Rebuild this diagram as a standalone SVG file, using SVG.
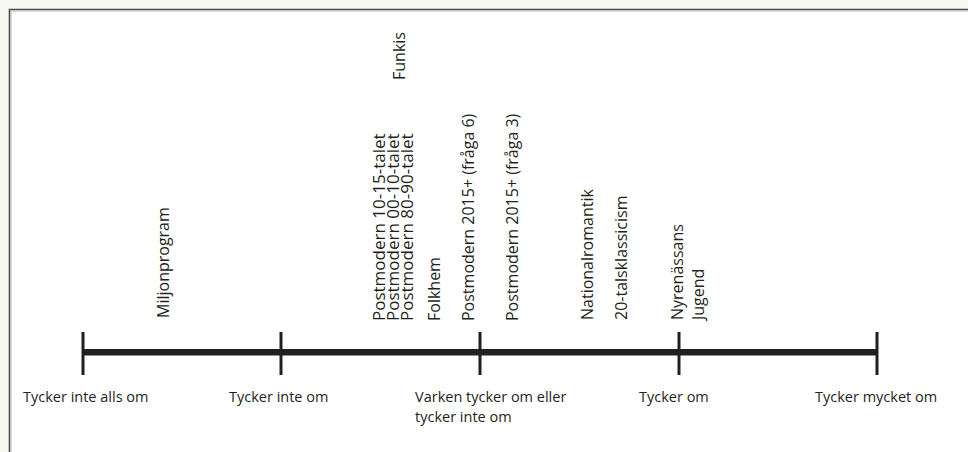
<svg xmlns="http://www.w3.org/2000/svg" width="968" height="452" viewBox="0 0 968 452">
<style>
.lbl{font-family:"Open Sans","Noto Sans","Liberation Sans",sans-serif;font-size:14.5px;fill:#231f20}
.rot{font-family:"Open Sans","Noto Sans","Liberation Sans",sans-serif;font-size:16px;fill:#231f20}
.pm{font-size:17px}
.tick{stroke:#231f20;stroke-width:3}
</style>
<rect x="0" y="0" width="968" height="452" fill="#f5f8f0"/>
<rect x="9" y="9" width="959" height="443" fill="#ffffff"/>
<path d="M9.5 452V9.5H968" fill="none" stroke="#4a4a4a" stroke-width="1.6"/>
<path d="M11 452V11H968" fill="none" stroke="#b8b8b8" stroke-width="1"/>
<g id="axis">
<rect x="83" y="349" width="794" height="6.5" fill="#231f20"/>
<line class="tick" x1="83" y1="332" x2="83" y2="375"/>
<line class="tick" x1="281" y1="332" x2="281" y2="375"/>
<line class="tick" x1="480" y1="332" x2="480" y2="375"/>
<line class="tick" x1="679" y1="332" x2="679" y2="375"/>
<line class="tick" x1="877" y1="332" x2="877" y2="375"/>
</g>
<g id="scale-labels">
<text class="lbl" x="23" y="402">Tycker inte alls om</text>
<text class="lbl" x="229" y="402">Tycker inte om</text>
<text class="lbl" x="415" y="402">Varken tycker om eller</text>
<text class="lbl" x="415" y="422">tycker inte om</text>
<text class="lbl" x="639" y="402">Tycker om</text>
<text class="lbl" x="815" y="402">Tycker mycket om</text>
</g>
<g id="styles">
<text class="rot" transform="translate(169,318) rotate(-90)">Miljonprogram</text>
<text class="rot pm" transform="translate(385,321) rotate(-90)">Postmodern 10-15-talet</text>
<text class="rot pm" transform="translate(399,321) rotate(-90)">Postmodern 00-10-talet</text>
<text class="rot pm" transform="translate(413,321) rotate(-90)">Postmodern 80-90-talet</text>
<text class="rot" transform="translate(440,321) rotate(-90)">Folkhem</text>
<text class="rot" transform="translate(405,80) rotate(-90)">Funkis</text>
<text class="rot" transform="translate(474,321) rotate(-90)">Postmodern 2015+ (fråga 6)</text>
<text class="rot" transform="translate(518,321) rotate(-90)">Postmodern 2015+ (fråga 3)</text>
<text class="rot" transform="translate(593,320) rotate(-90)">Nationalromantik</text>
<text class="rot" transform="translate(627,320) rotate(-90)">20-talsklassicism</text>
<text class="rot" transform="translate(683,320) rotate(-90)">Nyrenässans</text>
<text class="rot" transform="translate(704,320) rotate(-90)">Jugend</text>
</g>
</svg>
